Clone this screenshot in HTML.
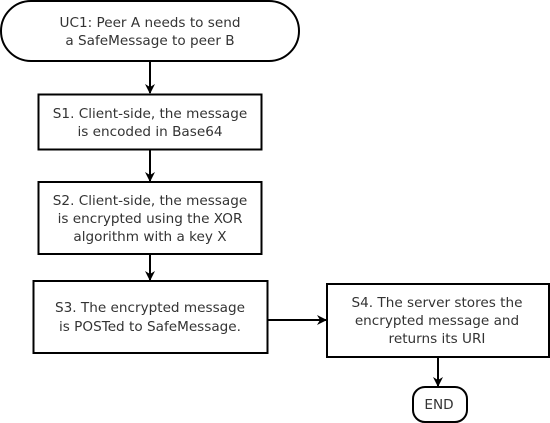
<!DOCTYPE html>
<html><head><meta charset="utf-8"><style>
html,body{margin:0;padding:0;background:#fff;width:550px;height:423px;overflow:hidden}
svg text{font-family:"DejaVu Sans","Liberation Sans",sans-serif;font-size:13.6px;fill:#333;text-anchor:middle}
</style></head><body>
<svg width="550" height="423" viewBox="0 0 550 423" xmlns="http://www.w3.org/2000/svg">
<defs><marker id="a" markerWidth="10" markerHeight="10" refX="9" refY="5" orient="auto" markerUnits="userSpaceOnUse"><path d="M0,0 L10,5 L0,10 L3,5 Z" fill="#000"/></marker></defs>
<g fill="#fff" stroke="#000" stroke-width="2">
<rect x="1" y="1" width="298" height="60" rx="30" ry="30"/>
<rect x="38.5" y="94.5" width="223" height="55"/>
<rect x="38.5" y="182" width="223" height="72"/>
<rect x="33.5" y="281" width="234" height="72"/>
<rect x="327" y="284" width="222" height="73"/>
<rect x="413" y="387" width="54" height="35" rx="12" ry="12"/>
</g>
<g stroke="#000" stroke-width="2" fill="none">
<line x1="150" y1="61" x2="150" y2="93" marker-end="url(#a)"/>
<line x1="150" y1="149" x2="150" y2="181" marker-end="url(#a)"/>
<line x1="150" y1="254" x2="150" y2="280" marker-end="url(#a)"/>
<line x1="268" y1="320" x2="326" y2="320" marker-end="url(#a)"/>
<line x1="438" y1="357" x2="438" y2="386" marker-end="url(#a)"/>
</g>
<text x="150" y="27">UC1: Peer A needs to send</text>
<text x="150" y="45">a SafeMessage to peer B</text>
<text x="150" y="118">S1. Client-side, the message</text>
<text x="150" y="136">is encoded in Base64</text>
<text x="150" y="205">S2. Client-side, the message</text>
<text x="150" y="223">is encrypted using the XOR</text>
<text x="150" y="241">algorithm with a key X</text>
<text x="150" y="312">S3. The encrypted message</text>
<text x="150" y="331">is POSTed to SafeMessage.</text>
<text x="437" y="307">S4. The server stores the</text>
<text x="437" y="325">encrypted message and</text>
<text x="437" y="343">returns its URI</text>
<text x="439" y="409">END</text>
</svg>
</body></html>
